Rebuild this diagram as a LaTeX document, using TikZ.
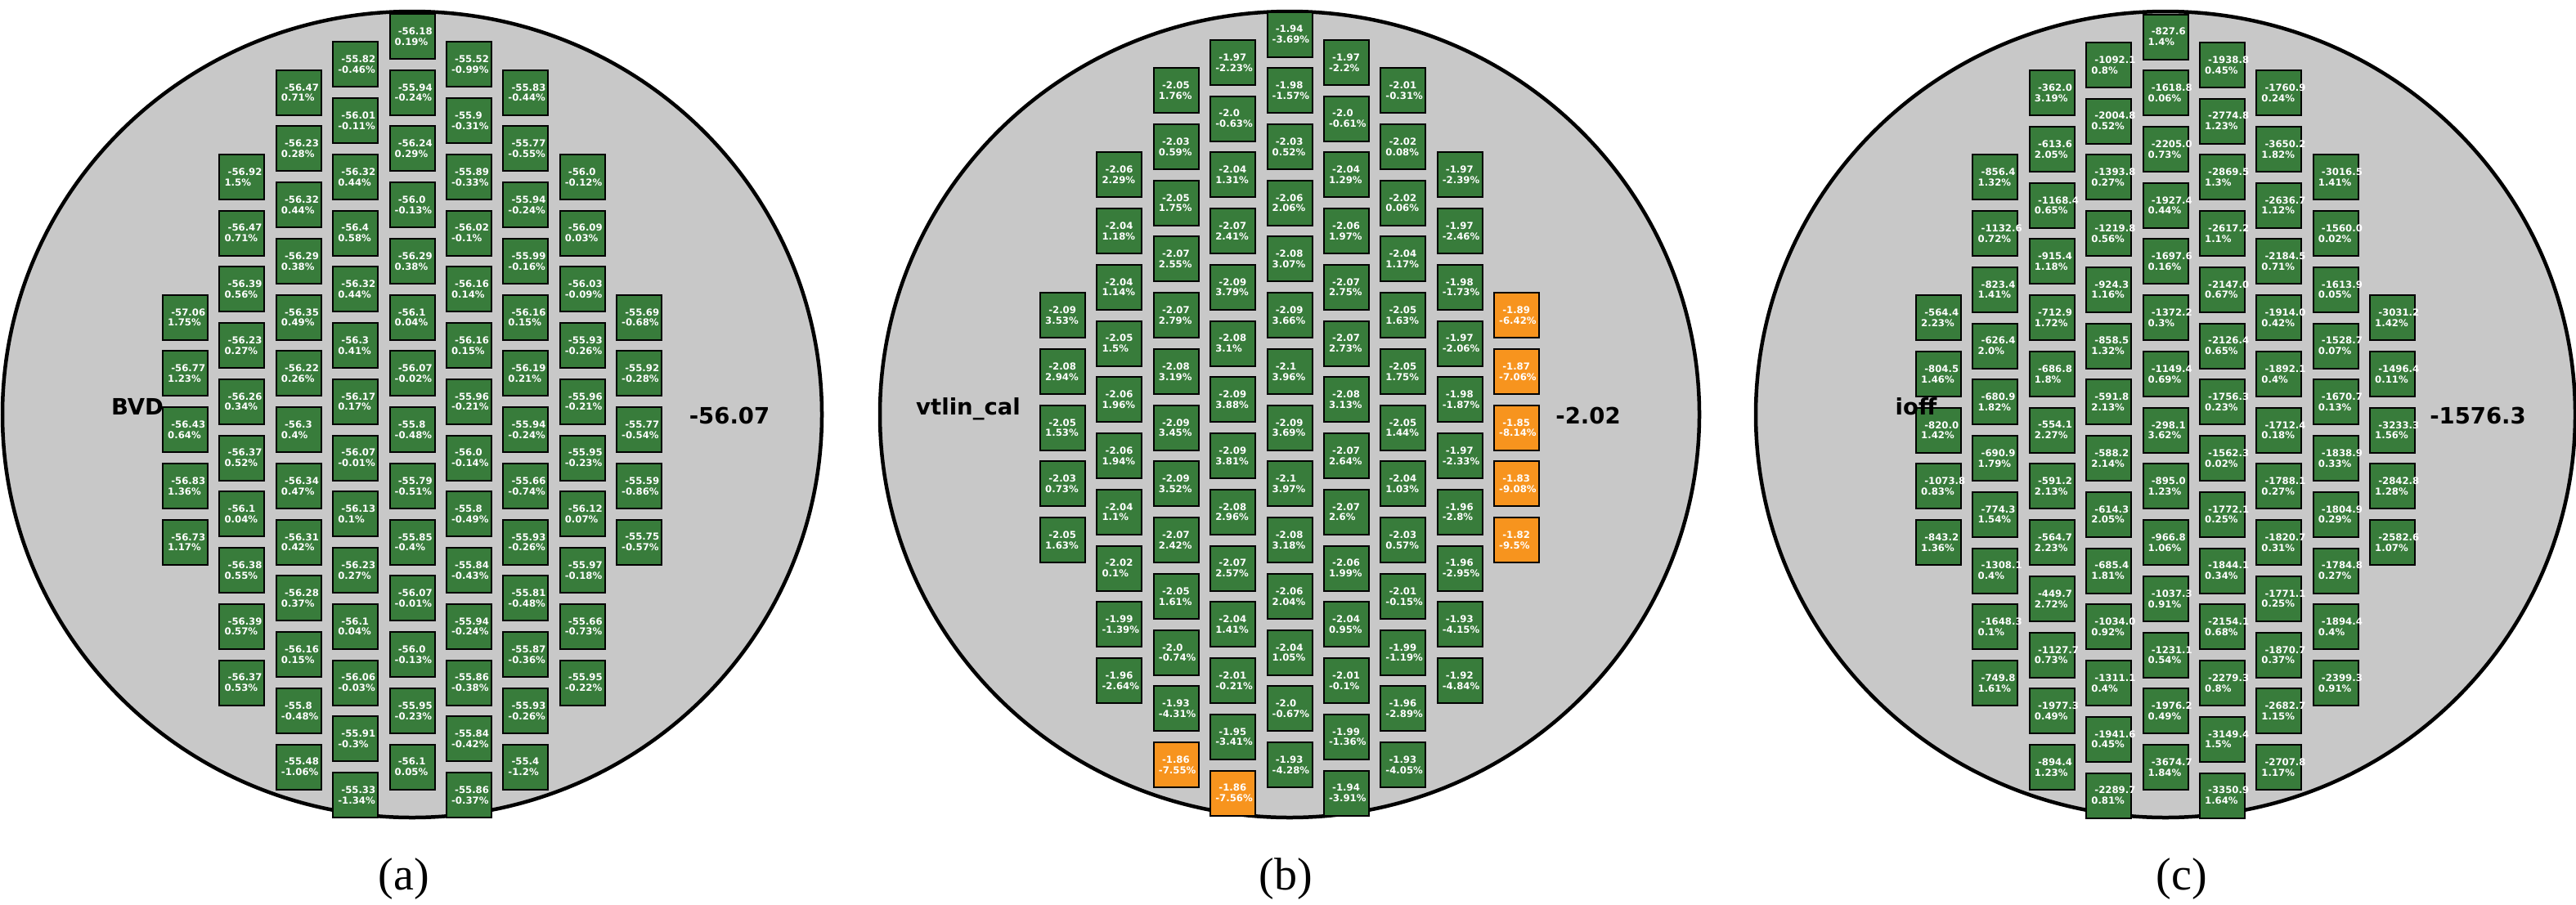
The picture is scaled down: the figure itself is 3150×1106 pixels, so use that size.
\documentclass[tikz,border=0pt]{standalone}
\usepackage{fontspec}
\setmainfont{Liberation Serif}
\newfontfamily\dejavu{DejaVu Sans}
\usetikzlibrary{shapes.geometric}
\definecolor{cellg}{RGB}{56,124,59}
\definecolor{cello}{RGB}{247,148,30}
\definecolor{wafergray}{RGB}{200,200,200}
\tikzset{
  waferdisc/.style={ellipse, draw=black, line width=4.5pt, fill=wafergray, minimum width=1002pt, minimum height=986pt, inner sep=0pt},
  cellbox/.style={rectangle, draw=black, line width=2pt, minimum size=55pt, inner sep=0pt},
  celltxt/.style={anchor=west, inner sep=0pt, align=left, text=white, font=\dejavu\bfseries\fontsize{11.7}{12.8}\selectfont},
  wlabel/.style={anchor=base, inner sep=0pt, font=\dejavu\bfseries\fontsize{27.5}{33}\selectfont},
  wcaption/.style={anchor=base, inner sep=0pt, font=\fontsize{56}{66}\selectfont}
}
% #1 wafer name, #2 left x of column 1, #3 top y of row 0, #4 list col/row/value/pct/colour
\newcommand\drawwafer[4]{%
  \foreach \ci/\ri/\vv/\pp/\ff in {#4}{
    \node[cellbox, fill=cell\ff] (#1-\ci-\ri) at ({#2+69.375*(\ci-1)+28.5},{#3+34.37*\ri+28.5}) {};
    \node[celltxt] (#1-\ci-\ri-t) at ({#2+69.375*(\ci-1)+7},{#3+34.37*\ri+28.5}) {\hspace*{0.348em}\vv\\\pp\%};
  }}
\begin{document}
\begin{tikzpicture}[x=1pt,y=-1pt]
\useasboundingbox (0,0) rectangle (3150,1106);
% wafers
\node[waferdisc] (wa) at (504,507) {};
\node[waferdisc] (wb) at (1577,507) {};
\node[waferdisc] (wc) at (2648,507) {};
% wafer (a)
\drawwafer{a}{198}{16}{
1/10/-57.06/1.75/g, 1/12/-56.77/1.23/g, 1/14/-56.43/0.64/g, 1/16/-56.83/1.36/g, 1/18/-56.73/1.17/g,
2/5/-56.92/1.5/g, 2/7/-56.47/0.71/g, 2/9/-56.39/0.56/g, 2/11/-56.23/0.27/g, 2/13/-56.26/0.34/g, 2/15/-56.37/0.52/g, 2/17/-56.1/0.04/g, 2/19/-56.38/0.55/g, 2/21/-56.39/0.57/g, 2/23/-56.37/0.53/g,
3/2/-56.47/0.71/g, 3/4/-56.23/0.28/g, 3/6/-56.32/0.44/g, 3/8/-56.29/0.38/g, 3/10/-56.35/0.49/g, 3/12/-56.22/0.26/g, 3/14/-56.3/0.4/g, 3/16/-56.34/0.47/g, 3/18/-56.31/0.42/g, 3/20/-56.28/0.37/g, 3/22/-56.16/0.15/g, 3/24/-55.8/-0.48/g, 3/26/-55.48/-1.06/g,
4/1/-55.82/-0.46/g, 4/3/-56.01/-0.11/g, 4/5/-56.32/0.44/g, 4/7/-56.4/0.58/g, 4/9/-56.32/0.44/g, 4/11/-56.3/0.41/g, 4/13/-56.17/0.17/g, 4/15/-56.07/-0.01/g, 4/17/-56.13/0.1/g, 4/19/-56.23/0.27/g, 4/21/-56.1/0.04/g, 4/23/-56.06/-0.03/g, 4/25/-55.91/-0.3/g, 4/27/-55.33/-1.34/g,
5/0/-56.18/0.19/g, 5/2/-55.94/-0.24/g, 5/4/-56.24/0.29/g, 5/6/-56.0/-0.13/g, 5/8/-56.29/0.38/g, 5/10/-56.1/0.04/g, 5/12/-56.07/-0.02/g, 5/14/-55.8/-0.48/g, 5/16/-55.79/-0.51/g, 5/18/-55.85/-0.4/g, 5/20/-56.07/-0.01/g, 5/22/-56.0/-0.13/g, 5/24/-55.95/-0.23/g, 5/26/-56.1/0.05/g,
6/1/-55.52/-0.99/g, 6/3/-55.9/-0.31/g, 6/5/-55.89/-0.33/g, 6/7/-56.02/-0.1/g, 6/9/-56.16/0.14/g, 6/11/-56.16/0.15/g, 6/13/-55.96/-0.21/g, 6/15/-56.0/-0.14/g, 6/17/-55.8/-0.49/g, 6/19/-55.84/-0.43/g, 6/21/-55.94/-0.24/g, 6/23/-55.86/-0.38/g, 6/25/-55.84/-0.42/g, 6/27/-55.86/-0.37/g,
7/2/-55.83/-0.44/g, 7/4/-55.77/-0.55/g, 7/6/-55.94/-0.24/g, 7/8/-55.99/-0.16/g, 7/10/-56.16/0.15/g, 7/12/-56.19/0.21/g, 7/14/-55.94/-0.24/g, 7/16/-55.66/-0.74/g, 7/18/-55.93/-0.26/g, 7/20/-55.81/-0.48/g, 7/22/-55.87/-0.36/g, 7/24/-55.93/-0.26/g, 7/26/-55.4/-1.2/g,
8/5/-56.0/-0.12/g, 8/7/-56.09/0.03/g, 8/9/-56.03/-0.09/g, 8/11/-55.93/-0.26/g, 8/13/-55.96/-0.21/g, 8/15/-55.95/-0.23/g, 8/17/-56.12/0.07/g, 8/19/-55.97/-0.18/g, 8/21/-55.66/-0.73/g, 8/23/-55.95/-0.22/g,
9/10/-55.69/-0.68/g, 9/12/-55.92/-0.28/g, 9/14/-55.77/-0.54/g, 9/16/-55.59/-0.86/g, 9/18/-55.75/-0.57/g}
% wafer (b)
\drawwafer{b}{1271}{13.5}{
1/10/-2.09/3.53/g, 1/12/-2.08/2.94/g, 1/14/-2.05/1.53/g, 1/16/-2.03/0.73/g, 1/18/-2.05/1.63/g,
2/5/-2.06/2.29/g, 2/7/-2.04/1.18/g, 2/9/-2.04/1.14/g, 2/11/-2.05/1.5/g, 2/13/-2.06/1.96/g, 2/15/-2.06/1.94/g, 2/17/-2.04/1.1/g, 2/19/-2.02/0.1/g, 2/21/-1.99/-1.39/g, 2/23/-1.96/-2.64/g,
3/2/-2.05/1.76/g, 3/4/-2.03/0.59/g, 3/6/-2.05/1.75/g, 3/8/-2.07/2.55/g, 3/10/-2.07/2.79/g, 3/12/-2.08/3.19/g, 3/14/-2.09/3.45/g, 3/16/-2.09/3.52/g, 3/18/-2.07/2.42/g, 3/20/-2.05/1.61/g, 3/22/-2.0/-0.74/g, 3/24/-1.93/-4.31/g, 3/26/-1.86/-7.55/o,
4/1/-1.97/-2.23/g, 4/3/-2.0/-0.63/g, 4/5/-2.04/1.31/g, 4/7/-2.07/2.41/g, 4/9/-2.09/3.79/g, 4/11/-2.08/3.1/g, 4/13/-2.09/3.88/g, 4/15/-2.09/3.81/g, 4/17/-2.08/2.96/g, 4/19/-2.07/2.57/g, 4/21/-2.04/1.41/g, 4/23/-2.01/-0.21/g, 4/25/-1.95/-3.41/g, 4/27/-1.86/-7.56/o,
5/0/-1.94/-3.69/g, 5/2/-1.98/-1.57/g, 5/4/-2.03/0.52/g, 5/6/-2.06/2.06/g, 5/8/-2.08/3.07/g, 5/10/-2.09/3.66/g, 5/12/-2.1/3.96/g, 5/14/-2.09/3.69/g, 5/16/-2.1/3.97/g, 5/18/-2.08/3.18/g, 5/20/-2.06/2.04/g, 5/22/-2.04/1.05/g, 5/24/-2.0/-0.67/g, 5/26/-1.93/-4.28/g,
6/1/-1.97/-2.2/g, 6/3/-2.0/-0.61/g, 6/5/-2.04/1.29/g, 6/7/-2.06/1.97/g, 6/9/-2.07/2.75/g, 6/11/-2.07/2.73/g, 6/13/-2.08/3.13/g, 6/15/-2.07/2.64/g, 6/17/-2.07/2.6/g, 6/19/-2.06/1.99/g, 6/21/-2.04/0.95/g, 6/23/-2.01/-0.1/g, 6/25/-1.99/-1.36/g, 6/27/-1.94/-3.91/g,
7/2/-2.01/-0.31/g, 7/4/-2.02/0.08/g, 7/6/-2.02/0.06/g, 7/8/-2.04/1.17/g, 7/10/-2.05/1.63/g, 7/12/-2.05/1.75/g, 7/14/-2.05/1.44/g, 7/16/-2.04/1.03/g, 7/18/-2.03/0.57/g, 7/20/-2.01/-0.15/g, 7/22/-1.99/-1.19/g, 7/24/-1.96/-2.89/g, 7/26/-1.93/-4.05/g,
8/5/-1.97/-2.39/g, 8/7/-1.97/-2.46/g, 8/9/-1.98/-1.73/g, 8/11/-1.97/-2.06/g, 8/13/-1.98/-1.87/g, 8/15/-1.97/-2.33/g, 8/17/-1.96/-2.8/g, 8/19/-1.96/-2.95/g, 8/21/-1.93/-4.15/g, 8/23/-1.92/-4.84/g,
9/10/-1.89/-6.42/o, 9/12/-1.87/-7.06/o, 9/14/-1.85/-8.14/o, 9/16/-1.83/-9.08/o, 9/18/-1.82/-9.5/o}
% wafer (c)
\drawwafer{c}{2342}{16.5}{
1/10/-564.4/2.23/g, 1/12/-804.5/1.46/g, 1/14/-820.0/1.42/g, 1/16/-1073.8/0.83/g, 1/18/-843.2/1.36/g,
2/5/-856.4/1.32/g, 2/7/-1132.6/0.72/g, 2/9/-823.4/1.41/g, 2/11/-626.4/2.0/g, 2/13/-680.9/1.82/g, 2/15/-690.9/1.79/g, 2/17/-774.3/1.54/g, 2/19/-1308.1/0.4/g, 2/21/-1648.3/0.1/g, 2/23/-749.8/1.61/g,
3/2/-362.0/3.19/g, 3/4/-613.6/2.05/g, 3/6/-1168.4/0.65/g, 3/8/-915.4/1.18/g, 3/10/-712.9/1.72/g, 3/12/-686.8/1.8/g, 3/14/-554.1/2.27/g, 3/16/-591.2/2.13/g, 3/18/-564.7/2.23/g, 3/20/-449.7/2.72/g, 3/22/-1127.7/0.73/g, 3/24/-1977.3/0.49/g, 3/26/-894.4/1.23/g,
4/1/-1092.1/0.8/g, 4/3/-2004.8/0.52/g, 4/5/-1393.8/0.27/g, 4/7/-1219.8/0.56/g, 4/9/-924.3/1.16/g, 4/11/-858.5/1.32/g, 4/13/-591.8/2.13/g, 4/15/-588.2/2.14/g, 4/17/-614.3/2.05/g, 4/19/-685.4/1.81/g, 4/21/-1034.0/0.92/g, 4/23/-1311.1/0.4/g, 4/25/-1941.6/0.45/g, 4/27/-2289.7/0.81/g,
5/0/-827.6/1.4/g, 5/2/-1618.8/0.06/g, 5/4/-2205.0/0.73/g, 5/6/-1927.4/0.44/g, 5/8/-1697.6/0.16/g, 5/10/-1372.2/0.3/g, 5/12/-1149.4/0.69/g, 5/14/-298.1/3.62/g, 5/16/-895.0/1.23/g, 5/18/-966.8/1.06/g, 5/20/-1037.3/0.91/g, 5/22/-1231.1/0.54/g, 5/24/-1976.2/0.49/g, 5/26/-3674.7/1.84/g,
6/1/-1938.8/0.45/g, 6/3/-2774.8/1.23/g, 6/5/-2869.5/1.3/g, 6/7/-2617.2/1.1/g, 6/9/-2147.0/0.67/g, 6/11/-2126.4/0.65/g, 6/13/-1756.3/0.23/g, 6/15/-1562.3/0.02/g, 6/17/-1772.1/0.25/g, 6/19/-1844.1/0.34/g, 6/21/-2154.1/0.68/g, 6/23/-2279.3/0.8/g, 6/25/-3149.4/1.5/g, 6/27/-3350.9/1.64/g,
7/2/-1760.9/0.24/g, 7/4/-3650.2/1.82/g, 7/6/-2636.7/1.12/g, 7/8/-2184.5/0.71/g, 7/10/-1914.0/0.42/g, 7/12/-1892.1/0.4/g, 7/14/-1712.4/0.18/g, 7/16/-1788.1/0.27/g, 7/18/-1820.7/0.31/g, 7/20/-1771.1/0.25/g, 7/22/-1870.7/0.37/g, 7/24/-2682.7/1.15/g, 7/26/-2707.8/1.17/g,
8/5/-3016.5/1.41/g, 8/7/-1560.0/0.02/g, 8/9/-1613.9/0.05/g, 8/11/-1528.7/0.07/g, 8/13/-1670.7/0.13/g, 8/15/-1838.9/0.33/g, 8/17/-1804.9/0.29/g, 8/19/-1784.8/0.27/g, 8/21/-1894.4/0.4/g, 8/23/-2399.3/0.91/g,
9/10/-3031.2/1.42/g, 9/12/-1496.4/0.11/g, 9/14/-3233.3/1.56/g, 9/16/-2842.8/1.28/g, 9/18/-2582.6/1.07/g}
% labels
\node[wlabel] (a-name) at (168,507) {BVD};
\node[wlabel] (a-val) at (892,518) {-56.07};
\node[wlabel] (b-name) at (1184,507) {vtlin\_cal};
\node[wlabel] (b-val) at (1942,518) {-2.02};
\node[wlabel] (c-name) at (2343,507) {ioff};
\node[wlabel] (c-val) at (3030,518) {-1576.3};
% captions
\node[wcaption] (cap-a) at (494,1088) {(a)};
\node[wcaption] (cap-b) at (1572,1088) {(b)};
\node[wcaption] (cap-c) at (2668,1088) {(c)};
\end{tikzpicture}
\end{document}
